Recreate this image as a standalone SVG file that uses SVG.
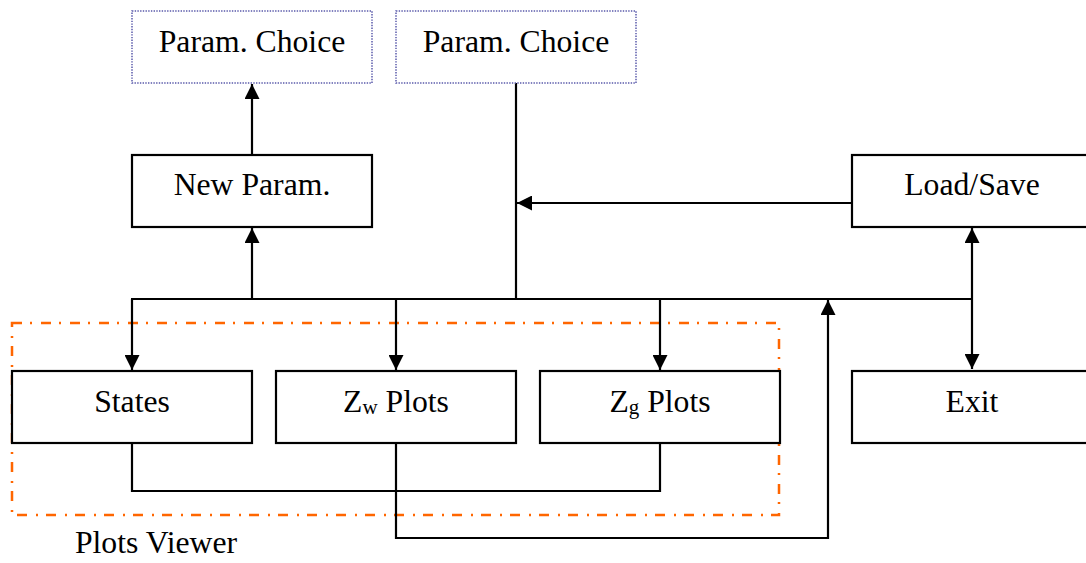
<svg xmlns="http://www.w3.org/2000/svg" width="1086" height="563" viewBox="0 0 1086 563">
<style>
.box{fill:#fff;stroke:#000;stroke-width:2.2}
.dot{fill:#fff;stroke:#5a5aaa;stroke-width:1.5;stroke-dasharray:1.4 1.3}
.grp{fill:none;stroke:#ff6600;stroke-width:2.5;stroke-dasharray:10 8 2 9}
.t{font-family:"Liberation Serif","Times New Roman",serif;font-size:31.7px;fill:#000;text-anchor:middle}
.c{fill:none;stroke:#000;stroke-width:2.2}
</style>
<defs>
<marker id="ah" markerUnits="userSpaceOnUse" markerWidth="15" markerHeight="15" refX="15" refY="7.5" orient="auto-start-reverse">
<path d="M0,0 L15,7.5 L0,15 z" fill="#000"/>
</marker>
</defs>
<rect x="0" y="0" width="1086" height="563" fill="#fff"/>
<g id="plots-viewer">
<rect class="grp" x="12" y="323" width="767" height="192"/>
<text class="t" x="156" y="553">Plots Viewer</text>
</g>
<g id="connectors">
<line class="c" x1="252" y1="155" x2="252" y2="84" marker-end="url(#ah)"/>
<line class="c" x1="516" y1="83" x2="516" y2="299"/>
<line class="c" x1="852" y1="203" x2="517" y2="203" marker-end="url(#ah)"/>
<line class="c" x1="131" y1="299" x2="973" y2="299"/>
<line class="c" x1="252" y1="299" x2="252" y2="228" marker-end="url(#ah)"/>
<line class="c" x1="132" y1="299" x2="132" y2="370" marker-end="url(#ah)"/>
<line class="c" x1="396" y1="299" x2="396" y2="370" marker-end="url(#ah)"/>
<line class="c" x1="660" y1="299" x2="660" y2="370" marker-end="url(#ah)"/>
<line class="c" x1="972" y1="228" x2="972" y2="369" marker-start="url(#ah)" marker-end="url(#ah)"/>
<path class="c" d="M396,443 V538 H828 V300" marker-end="url(#ah)"/>
<path class="c" d="M132,443 V491 H660 V443"/>
</g>
<g id="param-choice-1">
<rect class="dot" x="132" y="11" width="240" height="72"/>
<text class="t" x="252" y="52">Param. Choice</text>
</g>
<g id="param-choice-2">
<rect class="dot" x="396" y="11" width="240" height="72"/>
<text class="t" x="516" y="52">Param. Choice</text>
</g>
<g id="new-param">
<rect class="box" x="132" y="155" width="240" height="72"/>
<text class="t" x="252" y="195">New Param.</text>
</g>
<g id="load-save">
<rect class="box" x="852" y="155" width="240" height="72"/>
<text class="t" x="972" y="195">Load/Save</text>
</g>
<g id="states">
<rect class="box" x="12" y="371" width="240" height="72"/>
<text class="t" x="132" y="412">States</text>
</g>
<g id="zw-plots">
<rect class="box" x="276" y="371" width="240" height="72"/>
<text class="t" x="396" y="412">Z<tspan font-size="21" dy="2">w</tspan><tspan dy="-2"> Plots</tspan></text>
</g>
<g id="zg-plots">
<rect class="box" x="540" y="371" width="240" height="72"/>
<text class="t" x="660" y="412">Z<tspan font-size="21" dy="2">g</tspan><tspan dy="-2"> Plots</tspan></text>
</g>
<g id="exit">
<rect class="box" x="852" y="371" width="240" height="72"/>
<text class="t" x="972" y="412">Exit</text>
</g>
</svg>
